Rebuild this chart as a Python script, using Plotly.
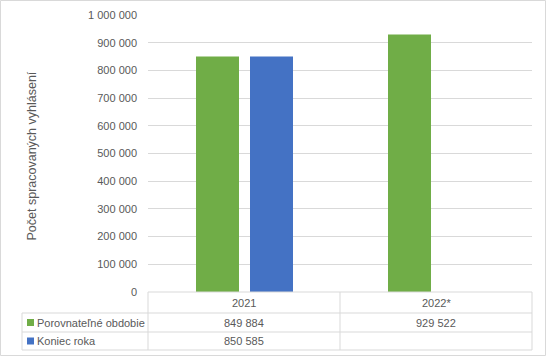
import plotly.graph_objects as go

categories = ["2021", "2022*"]
series_names = ["Porovnateľné obdobie", "Koniec roka"]
porovnatelne = [849884, 929522]
koniec_roka = [850585, None]
y_ticks = [0, 100000, 200000, 300000, 400000, 500000, 600000, 700000, 800000, 900000, 1000000]
colors = ["#70AD47", "#4472C4"]

W, H = 546, 356
x0, x1 = 148, 532
y_top, y_bot = 15, 292
row_lines = [292, 313, 332, 350]
table_left = 22

def px(x):
    return x / W

def py(y):
    return 1 - y / H

fig = go.Figure()
bar_w = 43 / 192
offsets = [-48 / 192, 6 / 192]
for name, vals, c, off in zip(series_names, [porovnatelne, koniec_roka], colors, offsets):
    fig.add_trace(go.Bar(x=categories, y=vals, name=name, marker=dict(color=c, line=dict(width=0)),
                         width=bar_w, offset=off, showlegend=False, hoverinfo="skip"))

font = dict(family="Liberation Sans, Arial, sans-serif", size=11, color="#595959")

shapes = []
line = dict(color="#D9D9D9", width=1)
# outer border
shapes.append(dict(type="rect", xref="paper", yref="paper", x0=px(0.5), x1=px(W - 0.5), y0=py(0.5), y1=py(H - 0.5), line=line))
# table horizontal lines
shapes.append(dict(type="line", xref="paper", yref="paper", x0=px(x0), x1=px(x1), y0=py(row_lines[0]), y1=py(row_lines[0]), line=line))
for r in row_lines[1:]:
    shapes.append(dict(type="line", xref="paper", yref="paper", x0=px(table_left), x1=px(x1), y0=py(r), y1=py(r), line=line))
# vertical lines
ncat = len(categories)
cat_w = (x1 - x0) / ncat
for i in range(ncat + 1):
    xv = x0 + i * cat_w
    shapes.append(dict(type="line", xref="paper", yref="paper", x0=px(xv), x1=px(xv), y0=py(row_lines[0]), y1=py(row_lines[-1]), line=line))
shapes.append(dict(type="line", xref="paper", yref="paper", x0=px(table_left), x1=px(table_left), y0=py(row_lines[1]), y1=py(row_lines[-1]), line=line))

annotations = []
# header
for i, c in enumerate(categories):
    annotations.append(dict(x=px(x0 + (i + 0.5) * cat_w), y=py((row_lines[0] + row_lines[1]) / 2), xref="paper", yref="paper",
                            text=c, showarrow=False, font=font, xanchor="center", yanchor="middle"))
# rows
def fmt(v):
    return "" if v is None else f"{v:,}".replace(",", " ")

for r, (name, vals, c) in enumerate(zip(series_names, [porovnatelne, koniec_roka], colors)):
    yc = (row_lines[r + 1] + row_lines[r + 2]) / 2
    shapes.append(dict(type="rect", xref="paper", yref="paper", x0=px(27), x1=px(34), y0=py(yc - 3.5), y1=py(yc + 3.5),
                       fillcolor=c, line=dict(width=0)))
    annotations.append(dict(x=px(35), y=py(yc), xref="paper", yref="paper", text=name, showarrow=False, font=font,
                            xanchor="left", yanchor="middle"))
    for i, v in enumerate(vals):
        if v is None:
            continue
        annotations.append(dict(x=px(x0 + (i + 0.5) * cat_w), y=py(yc), xref="paper", yref="paper",
                                text=fmt(v), showarrow=False, font=font, xanchor="center", yanchor="middle"))
# y-axis title
annotations.append(dict(x=px(31), y=py((y_top + y_bot) / 2 + 3), xref="paper", yref="paper", text="Počet spracovaných vyhlásení",
                        showarrow=False, textangle=-90, font=dict(family=font["family"], size=12.5, color="#595959"),
                        xanchor="center", yanchor="middle"))

fig.update_layout(
    width=W, height=H, margin=dict(l=0, r=0, t=0, b=0, autoexpand=False),
    paper_bgcolor="white", plot_bgcolor="white",
    separators=", ",
    font=font,
    showlegend=False,
    hovermode=False,
    xaxis=dict(domain=[px(x0), px(x1)], anchor="y", showticklabels=False, showgrid=False, zeroline=False,
               showline=False, ticks="", automargin=False),
    yaxis=dict(domain=[py(y_bot), py(y_top)], range=[0, 1000000], tickvals=y_ticks,
               ticktext=[fmt(v) for v in y_ticks], showgrid=True, gridcolor="#D9D9D9", gridwidth=1,
               zeroline=False, showline=False, ticks="", ticklabelstandoff=10, tickfont=font, automargin=False),
    shapes=shapes, annotations=annotations,
)

fig.write_html("out.html", config={"displayModeBar": False, "staticPlot": True},
               post_script="document.body.style.margin='0';document.body.style.padding='0';")
